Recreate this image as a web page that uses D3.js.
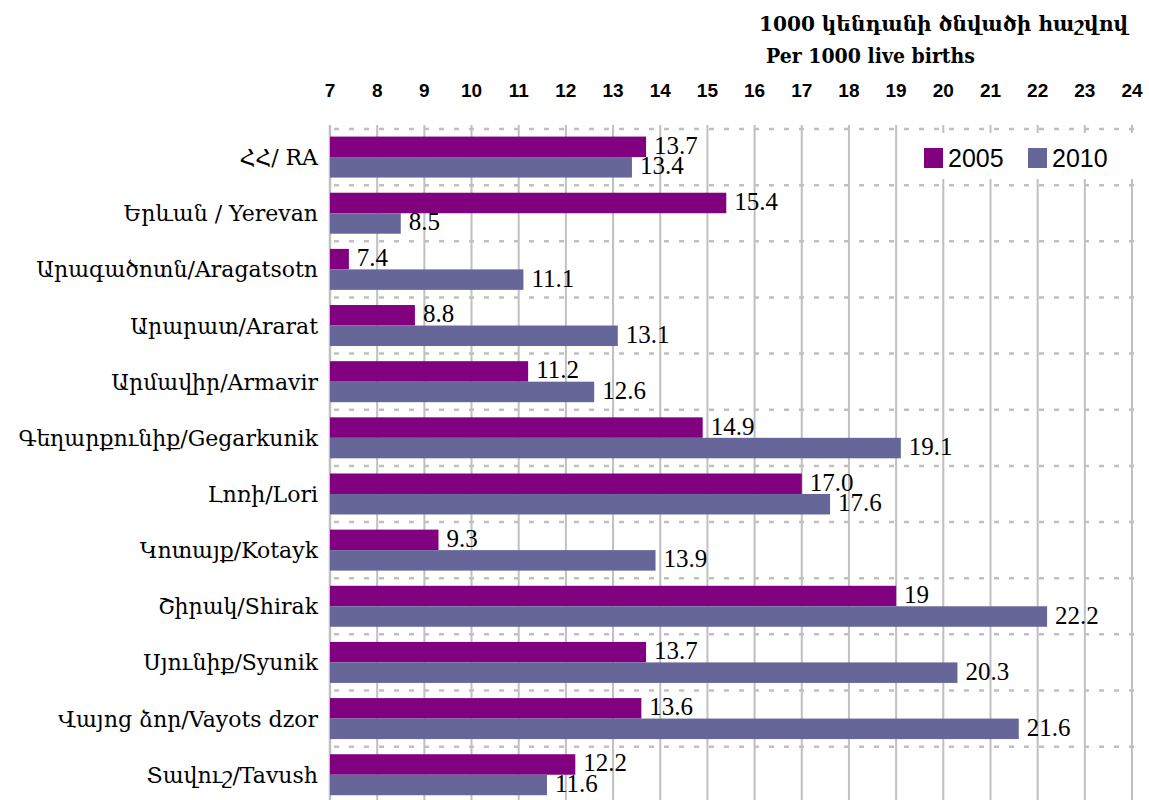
<!DOCTYPE html>
<html>
<head>
<meta charset="utf-8">
<script src="https://cdn.jsdelivr.net/npm/d3@7.9.0/dist/d3.min.js"></script>
<style>
  body { margin: 0; background: #fff; }
  svg { display: block; }
  .cat { font-family: "DejaVu Serif", serif; font-size: 22px; fill: #000; }
  .tick-label { font-family: "Liberation Sans", Arial, sans-serif; font-size: 19px; font-weight: bold; fill: #000; }
  .val { font-family: "Liberation Serif", serif; font-size: 25px; fill: #000; }
  .title { font-family: "DejaVu Serif", serif; font-size: 20px; font-weight: bold; fill: #000; }
  .legend-text { font-family: "Liberation Sans", Arial, sans-serif; font-size: 25px; fill: #000; }
</style>
</head>
<body>
<svg id="chart" width="1149" height="800"></svg>
<script>
// categories, top to bottom
const regions = [
  'ՀՀ/ RA',
  'Երևան / Yerevan',
  'Արագածոտն/Aragatsotn',
  'Արարատ/Ararat',
  'Արմավիր/Armavir',
  'Գեղարքունիք/Gegarkunik',
  'Լոռի/Lori',
  'Կոտայք/Kotayk',
  'Շիրակ/Shirak',
  'Սյունիք/Syunik',
  'Վայոց ձոր/Vayots dzor',
  'Տավուշ/Tavush'
];
const years = ['2005', '2010'];
const values2005 = [13.7, 15.4, 7.4, 8.8, 11.2, 14.9, 17.0, 9.3, 19, 13.7, 13.6, 12.2];
const values2010 = [13.4, 8.5, 11.1, 13.1, 12.6, 19.1, 17.6, 13.9, 22.2, 20.3, 21.6, 11.6];
const labels2005 = ['13.7', '15.4', '7.4', '8.8', '11.2', '14.9', '17.0', '9.3', '19', '13.7', '13.6', '12.2'];
const labels2010 = ['13.4', '8.5', '11.1', '13.1', '12.6', '19.1', '17.6', '13.9', '22.2', '20.3', '21.6', '11.6'];
const xTicks = d3.range(7, 25);

const colors = { '2005': '#800080', '2010': '#666699' };

const svg = d3.select('#chart');
const plotLeft = 330, plotRight = 1132, plotTop = 129;
const band = 56.15;
const plotBottom = plotTop + band * regions.length;

const x = d3.scaleLinear().domain([7, 24]).range([plotLeft, plotRight]);
const y = d3.scaleBand().domain(regions).range([plotTop, plotBottom]).paddingInner(0.27).paddingOuter(0.135);
const ySub = d3.scaleBand().domain(years).range([0, y.bandwidth()]);

// title
svg.append('text').attr('class', 'title').attr('x', 759).attr('y', 31)
  .attr('textLength', 369).attr('lengthAdjust', 'spacingAndGlyphs')
  .text('1000 կենդանի ծնվածի հաշվով');
svg.append('text').attr('class', 'title').attr('x', 766).attr('y', 63)
  .attr('textLength', 209).attr('lengthAdjust', 'spacingAndGlyphs')
  .text('Per 1000 live births');

// tick labels at top
svg.append('g').selectAll('text').data(xTicks).join('text')
  .attr('class', 'tick-label')
  .attr('x', d => x(d))
  .attr('y', 97)
  .attr('text-anchor', 'middle')
  .text(d => d);

// vertical gridlines
svg.append('g').selectAll('line').data(xTicks).join('line')
  .attr('x1', d => x(d)).attr('x2', d => x(d))
  .attr('y1', plotTop - 4).attr('y2', 800)
  .attr('stroke', '#c0c0c0')
  .attr('stroke-width', d => d === 7 ? 2.5 : 2);

// horizontal dashed category separators
const seps = d3.range(regions.length + 1).map(i => plotTop + i * band);
svg.append('g').selectAll('line').data(seps).join('line')
  .attr('x1', plotLeft).attr('x2', plotRight + 2)
  .attr('y1', d => d).attr('y2', d => d)
  .attr('stroke', '#c0c0c0')
  .attr('stroke-width', 2.5)
  .attr('stroke-dasharray', '5,10')
  .attr('stroke-dashoffset', -4);

// legend box (hides gridlines behind)
svg.append('rect').attr('x', 912).attr('y', 133).attr('width', 222).attr('height', 46).attr('fill', '#fff');

// bars
const rows = regions.map((r, i) => ({
  region: r,
  items: [
    { year: '2005', value: values2005[i], label: labels2005[i] },
    { year: '2010', value: values2010[i], label: labels2010[i] }
  ]
}));

const groups = svg.append('g').selectAll('g').data(rows).join('g')
  .attr('transform', d => `translate(0,${y(d.region)})`);

groups.selectAll('rect').data(d => d.items).join('rect')
  .attr('x', plotLeft)
  .attr('y', d => ySub(d.year))
  .attr('width', d => x(d.value) - plotLeft)
  .attr('height', ySub.bandwidth())
  .attr('fill', d => colors[d.year]);

groups.selectAll('text').data(d => d.items).join('text')
  .attr('class', 'val')
  .attr('x', d => x(d.value) + 8)
  .attr('y', d => ySub(d.year) + ySub.bandwidth() / 2 + 7)
  .text(d => d.label);

// category labels
svg.append('g').selectAll('text').data(regions).join('text')
  .attr('class', 'cat')
  .attr('x', 318)
  .attr('y', d => y(d) + y.bandwidth() / 2 + 8)
  .attr('text-anchor', 'end')
  .text(d => d);

// legend
const legend = svg.append('g');
years.forEach((yr, i) => {
  const lx = 924 + i * 104;
  legend.append('rect').attr('x', lx).attr('y', 148).attr('width', 19).attr('height', 20).attr('fill', colors[yr]);
  legend.append('text').attr('class', 'legend-text').attr('x', lx + 24).attr('y', 167).text(yr);
});
</script>
</body>
</html>
